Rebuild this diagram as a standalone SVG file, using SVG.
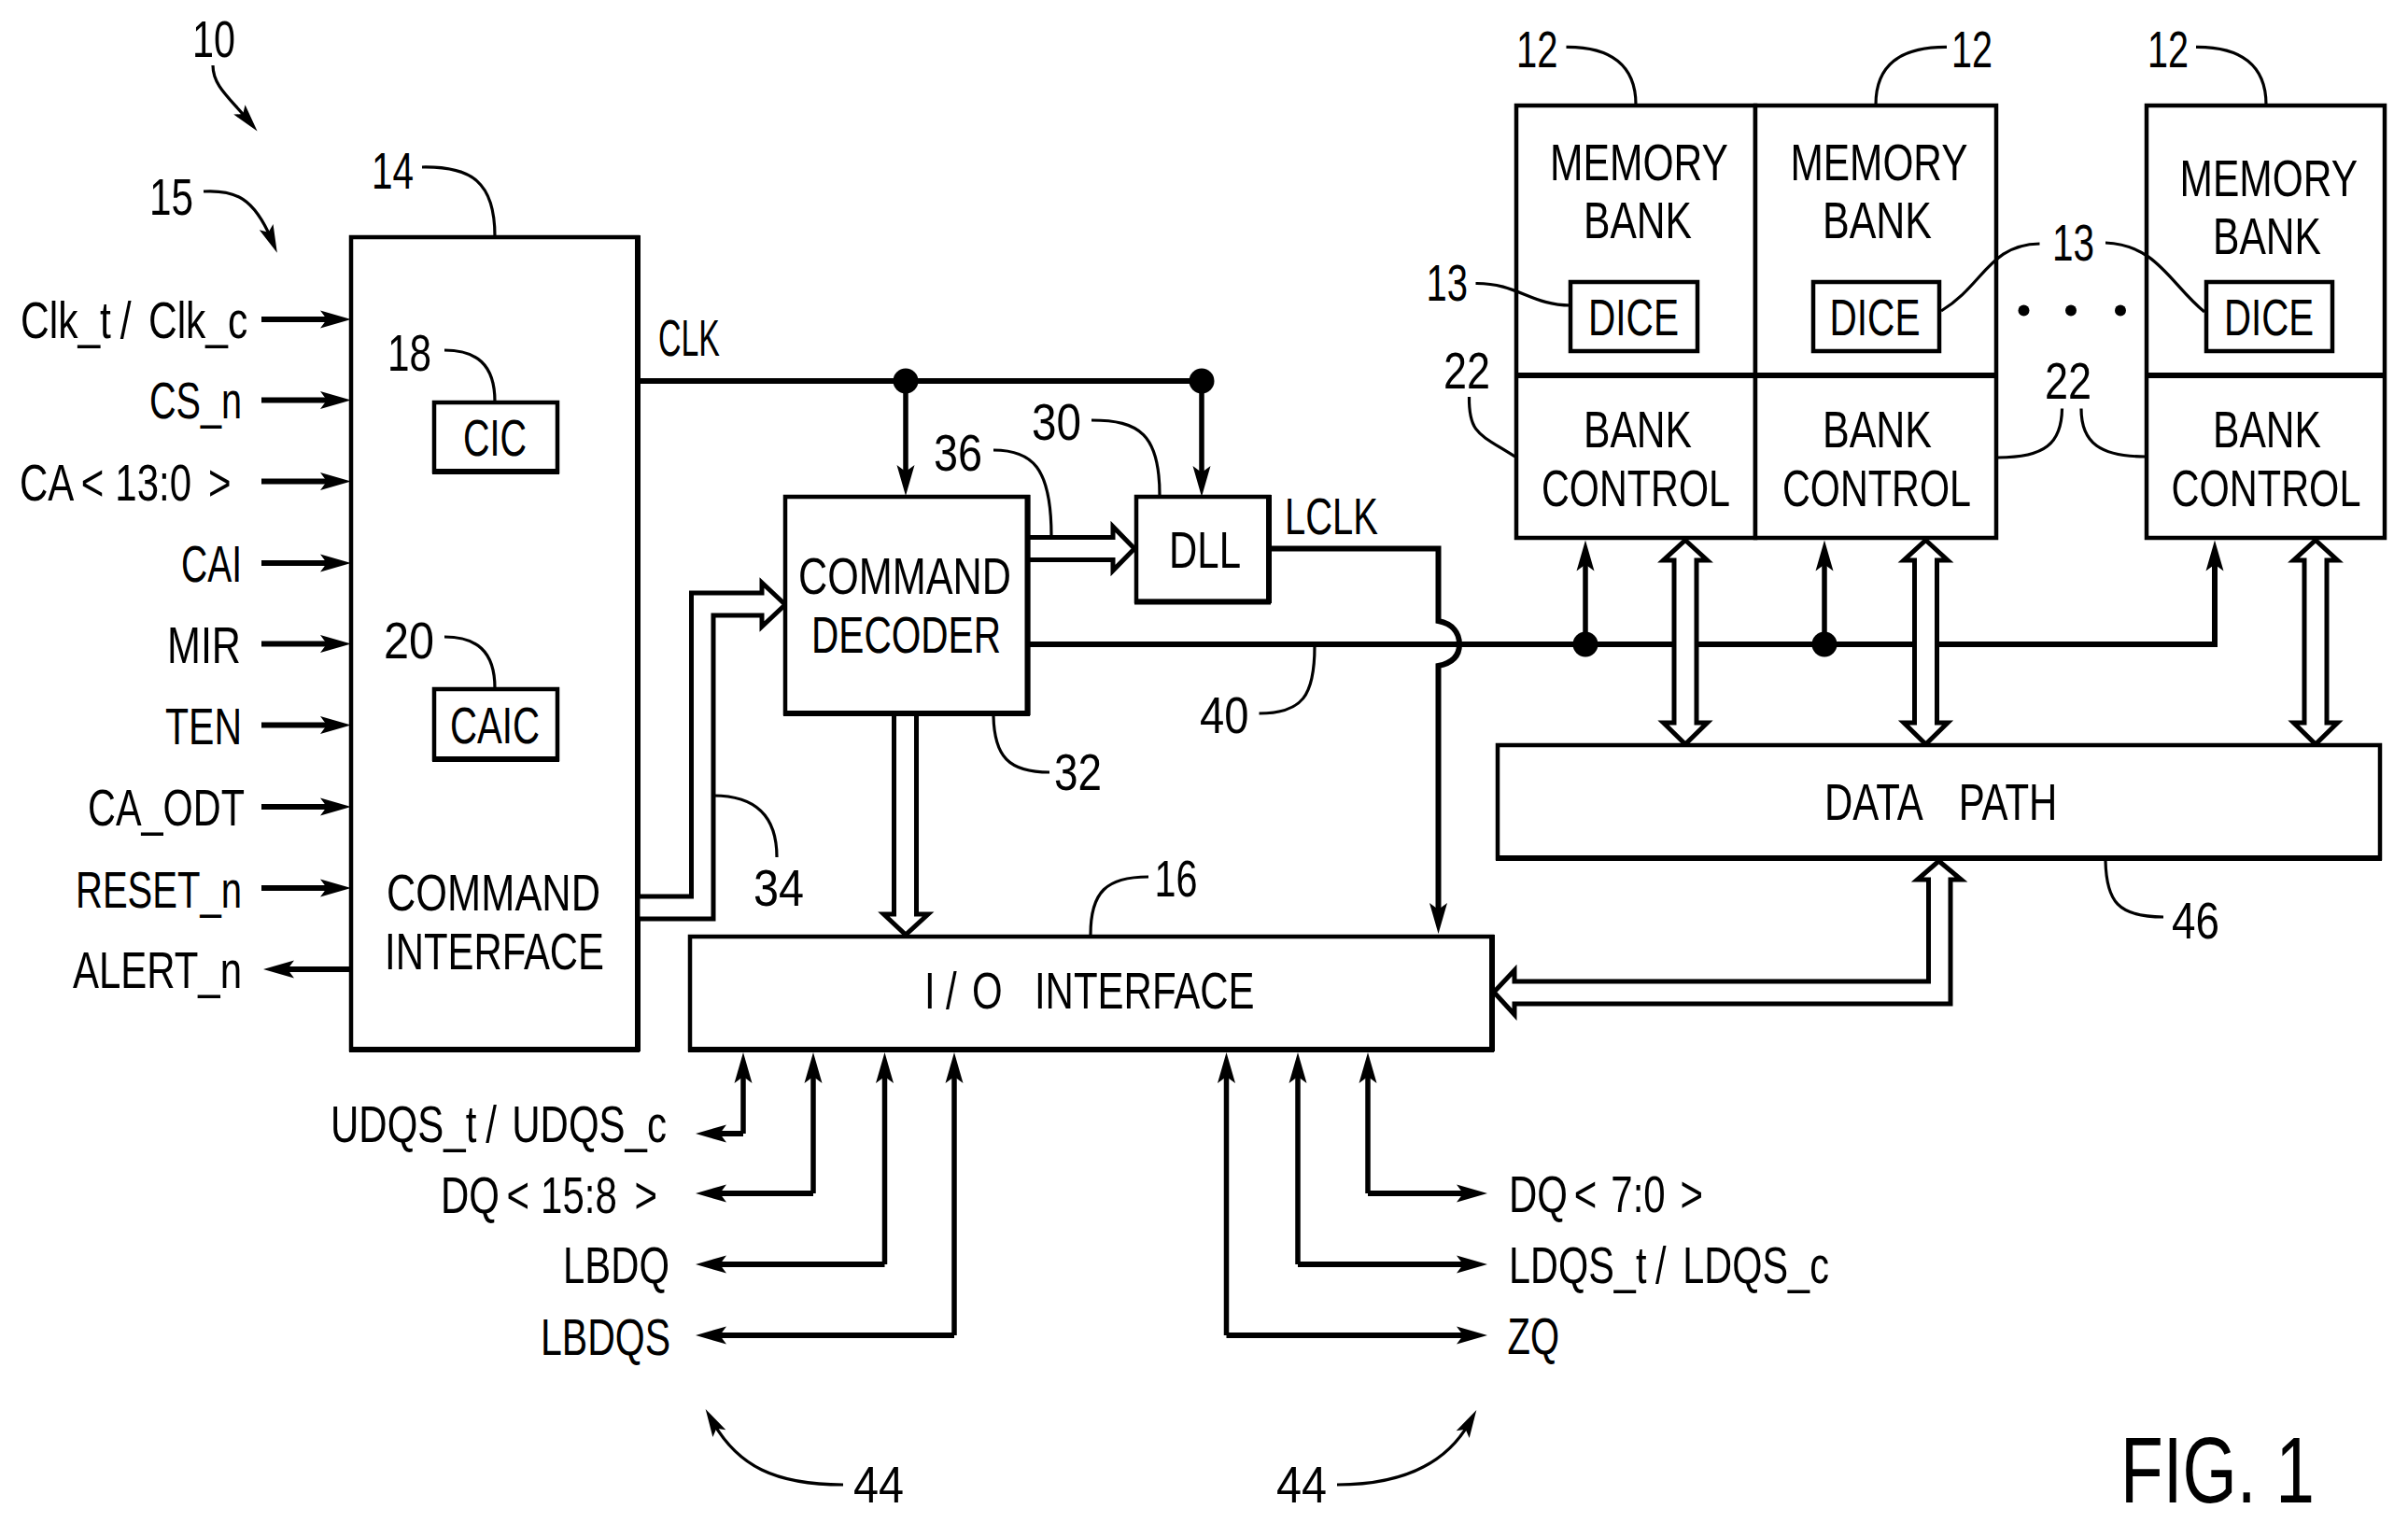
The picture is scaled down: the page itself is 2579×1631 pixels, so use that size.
<svg xmlns="http://www.w3.org/2000/svg" width="2579" height="1631" viewBox="0 0 2579 1631">
<style>
text{font-family:"Liberation Sans",Arial,sans-serif;font-size:56px;fill:#000}
.box{fill:#fff;stroke:#000;stroke-width:4.5}
.edge{fill:none;stroke:#000;stroke-width:6}
.wire{fill:none;stroke:#000;stroke-width:5.5}
.in{fill:none;stroke:#000;stroke-width:6}
.lead{fill:none;stroke:#000;stroke-width:3.2}
.bus{fill:#fff;stroke:#000;stroke-width:5;stroke-linejoin:miter}
.arr{marker-end:url(#head)}
.larr{marker-end:url(#lhead)}
</style>
<defs>
<marker id="head" markerUnits="userSpaceOnUse" markerWidth="40" markerHeight="24" refX="18" refY="12" orient="auto" overflow="visible"><path d="M0 2.5L33 12L0 21.5L7 12Z" fill="#000"/></marker>
<marker id="lhead" markerUnits="userSpaceOnUse" markerWidth="40" markerHeight="24" refX="15" refY="12" orient="auto" overflow="visible"><path d="M0 4L30 12L0 20L6 12Z" fill="#000"/></marker>
</defs>
<rect width="2579" height="1631" fill="#fff"/>

<g id="node-command-interface">
<rect class="box" x="376" y="254" width="307" height="870"/>
<path class="edge" d="M683 252V1126M374 1124H685"/>
<text x="414" y="975" textLength="229" lengthAdjust="spacingAndGlyphs">COMMAND</text>
<text x="412" y="1038" textLength="235" lengthAdjust="spacingAndGlyphs">INTERFACE</text>
</g>
<g id="node-cic"><rect class="box" x="465" y="431" width="132" height="74"/><path class="edge" d="M463 505H599"/>
<text x="496" y="488" textLength="68" lengthAdjust="spacingAndGlyphs">CIC</text></g>
<g id="node-caic"><rect class="box" x="465" y="738" width="132" height="75"/><path class="edge" d="M463 813H599"/>
<text x="482" y="796" textLength="96" lengthAdjust="spacingAndGlyphs">CAIC</text></g>

<g id="connectors">
<path class="in arr" d="M280 342H361"/>
<path class="in arr" d="M280 428.500H361"/>
<path class="in arr" d="M280 515.500H361"/>
<path class="in arr" d="M280 603H361"/>
<path class="in arr" d="M280 689.500H361"/>
<path class="in arr" d="M280 776.500H361"/>
<path class="in arr" d="M280 864H361"/>
<path class="in arr" d="M280 951H361"/>
<path class="in arr" d="M376 1038H297"/>
<path class="edge" d="M683 408H1287"/>
<circle cx="970" cy="408" r="13.500"/>
<circle cx="1287" cy="408" r="13.500"/>
<path class="wire arr" d="M970 408V516"/>
<path class="wire arr" d="M1287 408V517"/>
<path class="edge arr" d="M1359 587.500H1540.500V665C1556 668 1563 678 1563 690C1563 702 1556 710 1540.500 713V985"/>
<path class="edge arr" d="M1100 690H2372V593.500"/>
<circle cx="1698" cy="690" r="13.500"/>
<circle cx="1954" cy="690" r="13.500"/>
<path class="wire arr" d="M1698 690V593.500"/>
<path class="wire arr" d="M1954 690V593.500"/>
<path class="bus" d="M1805 578.500L1828.500 600H1817V774H1828.500L1805 797L1781.500 774H1793V600H1781.500Z"/>
<path class="bus" d="M2062.500 578.500L2086 600H2074.500V774H2086L2062.500 797L2039 774H2050.500V600H2039Z"/>
<path class="bus" d="M2480 578.500L2503.500 600H2492V774H2503.500L2480 797L2456.500 774H2468V600H2456.500Z"/>
<path class="bus" d="M683 960H740.500V635H816V624L841 647.500L816 671V659H764V984H683Z"/>
<path class="bus" d="M1100 575.500H1192V564L1215 587.500L1192 611V599.500H1100Z"/>
<path class="bus" d="M957.500 764H981.500V979H994L970 1001L946.500 979H957.500Z"/>
<path class="bus" d="M2076.500 922L2100.500 942H2089V1075H1622V1086.500L1600 1062.500L1622 1039V1051H2065.500V942H2053.500Z"/>
<path class="wire arr" d="M796 1214V1142"/>
<path class="wire arr" d="M871 1278V1142"/>
<path class="wire arr" d="M947.500 1354V1142"/>
<path class="wire arr" d="M1022 1430V1142"/>
<path class="wire arr" d="M1313.500 1430V1142"/>
<path class="wire arr" d="M1390 1354V1142"/>
<path class="wire arr" d="M1465 1278V1142"/>
<path class="in arr" d="M796 1214H760"/>
<path class="in arr" d="M871 1278H760"/>
<path class="in arr" d="M947.500 1354H760"/>
<path class="in arr" d="M1022 1430H760"/>
<path class="in arr" d="M1465 1278H1578"/>
<path class="in arr" d="M1390 1354H1578"/>
<path class="in arr" d="M1313.500 1430H1578"/>
</g>

<g id="node-command-decoder"><rect class="box" x="841" y="532" width="260" height="232"/><path class="edge" d="M1100.500 530V766M839 764H1103"/>
<text x="855" y="636" textLength="228" lengthAdjust="spacingAndGlyphs">COMMAND</text>
<text x="869" y="699" textLength="203" lengthAdjust="spacingAndGlyphs">DECODER</text></g>
<g id="node-dll"><rect class="box" x="1217" y="532" width="142" height="112"/><path class="edge" d="M1359 530V646M1215 644.500H1361"/>
<text x="1252" y="608" textLength="77" lengthAdjust="spacingAndGlyphs">DLL</text></g>
<g id="node-io-interface"><rect class="box" x="739" y="1003" width="859" height="121"/><path class="edge" d="M737 1124H1600M1598 1001V1126"/>
<text transform="translate(990 1080) scale(.75 1)" dx="0 15 22 0 30">I/O INTERFACE</text></g>
<g id="node-data-path"><rect class="box" x="1604" y="798" width="945" height="121"/><path class="edge" d="M1602 919H2551"/>
<text transform="translate(1954 878) scale(.75 1)" dx="0 0 0 0 0 38">DATA PATH</text></g>

<g id="node-bank-1"><rect class="box" x="1624" y="113" width="256" height="463"/><path class="edge" d="M1624 402H1880"/>
<text x="1660" y="193" textLength="191" lengthAdjust="spacingAndGlyphs">MEMORY</text>
<text x="1696" y="255" textLength="116" lengthAdjust="spacingAndGlyphs">BANK</text>
<rect class="box" x="1682" y="302" width="136" height="74"/>
<text x="1701" y="358.500" textLength="97" lengthAdjust="spacingAndGlyphs">DICE</text>
<text x="1696" y="479" textLength="116" lengthAdjust="spacingAndGlyphs">BANK</text>
<text x="1651" y="541.500" textLength="202" lengthAdjust="spacingAndGlyphs">CONTROL</text></g>
<g id="node-bank-2"><rect class="box" x="1880" y="113" width="258" height="463"/><path class="edge" d="M1880 402H2138"/>
<text x="1917.500" y="193" textLength="190" lengthAdjust="spacingAndGlyphs">MEMORY</text>
<text x="1952" y="255" textLength="117" lengthAdjust="spacingAndGlyphs">BANK</text>
<rect class="box" x="1942" y="302" width="135" height="74"/>
<text x="1959.500" y="358.500" textLength="97" lengthAdjust="spacingAndGlyphs">DICE</text>
<text x="1952" y="479" textLength="117" lengthAdjust="spacingAndGlyphs">BANK</text>
<text x="1909" y="541.500" textLength="202" lengthAdjust="spacingAndGlyphs">CONTROL</text></g>
<g id="node-bank-3"><rect class="box" x="2299" y="113" width="255" height="463"/><path class="edge" d="M2299 402H2554"/>
<text x="2334.500" y="210" textLength="190.500" lengthAdjust="spacingAndGlyphs">MEMORY</text>
<text x="2370" y="272" textLength="116" lengthAdjust="spacingAndGlyphs">BANK</text>
<rect class="box" x="2363" y="302" width="135" height="74"/>
<text x="2382" y="358.500" textLength="96" lengthAdjust="spacingAndGlyphs">DICE</text>
<text x="2370" y="479" textLength="116" lengthAdjust="spacingAndGlyphs">BANK</text>
<text x="2325.500" y="541.500" textLength="203" lengthAdjust="spacingAndGlyphs">CONTROL</text></g>

<g id="ellipsis"><circle cx="2167.500" cy="332.500" r="6"/><circle cx="2218" cy="332.500" r="6"/><circle cx="2271" cy="332.500" r="6"/></g>

<g id="leaders">
<path class="lead larr" d="M228 70C228 92 246 105 266 129"/>
<path class="lead larr" d="M218 205C252 203 272 212 291 257"/>
<path class="lead" d="M452 179C505 178 530 195 530 253"/>
<path class="lead" d="M476 375C510 375 530 390 530 430"/>
<path class="lead" d="M476 682C510 682 530 697 530 737"/>
<path class="lead" d="M764 852C805 852 832 870 832 918"/>
<path class="lead" d="M1064 482C1105 482 1126 500 1126 574"/>
<path class="lead" d="M1169 450C1220 450 1242 465 1242 530"/>
<path class="lead" d="M1064 767C1065 810 1080 827 1124 827"/>
<path class="lead" d="M1408 692C1408 745 1395 764 1348.500 764"/>
<path class="lead" d="M1230 939C1185 939 1168 955 1168 1001"/>
<path class="lead" d="M2255 922C2256 965 2268 982 2317 982"/>
<path class="lead" d="M1677.500 50.400C1725 50 1752 70 1752 112"/>
<path class="lead" d="M2085 50.400C2035 50 2009 70 2009 112"/>
<path class="lead" d="M2352 50.400C2400 50 2427 70 2427 112"/>
<path class="lead" d="M1580.500 303.500C1625 303 1640 327 1682 327"/>
<path class="lead" d="M2184.500 261C2130 262 2125 305 2079 333"/>
<path class="lead" d="M2255 260C2310 262 2325 305 2361 334"/>
<path class="lead" d="M1573.500 425C1573 465 1585 465 1622.500 489"/>
<path class="lead" d="M2208.500 437.500C2208 475 2190 490 2140 490"/>
<path class="lead" d="M2229 437.500C2229 475 2250 489 2298 489"/>
<path class="lead larr" d="M903 1590C830 1590 790 1570 763 1522"/>
<path class="lead larr" d="M1432 1590C1490 1590 1545 1575 1574 1523"/>
</g>

<g id="labels">
<text x="206" y="60.500" textLength="46" lengthAdjust="spacingAndGlyphs">10</text>
<text x="160" y="230" textLength="47" lengthAdjust="spacingAndGlyphs">15</text>
<text x="398" y="202" textLength="45" lengthAdjust="spacingAndGlyphs">14</text>
<text x="415" y="397" textLength="47" lengthAdjust="spacingAndGlyphs">18</text>
<text x="411" y="705" textLength="54" lengthAdjust="spacingAndGlyphs">20</text>
<text x="807" y="970" textLength="54" lengthAdjust="spacingAndGlyphs">34</text>
<text x="1000" y="503.500" textLength="52" lengthAdjust="spacingAndGlyphs">36</text>
<text x="1105" y="470.500" textLength="53" lengthAdjust="spacingAndGlyphs">30</text>
<text x="1129" y="846" textLength="51" lengthAdjust="spacingAndGlyphs">32</text>
<text x="1285" y="784.500" textLength="52.500" lengthAdjust="spacingAndGlyphs">40</text>
<text x="1236.500" y="960" textLength="46" lengthAdjust="spacingAndGlyphs">16</text>
<text x="2326" y="1005" textLength="51" lengthAdjust="spacingAndGlyphs">46</text>
<text x="1624" y="71.500" textLength="44.500" lengthAdjust="spacingAndGlyphs">12</text>
<text x="2090" y="71.500" textLength="44" lengthAdjust="spacingAndGlyphs">12</text>
<text x="2300" y="71.500" textLength="44" lengthAdjust="spacingAndGlyphs">12</text>
<text x="1527.500" y="322" textLength="44.500" lengthAdjust="spacingAndGlyphs">13</text>
<text x="2198" y="279" textLength="45" lengthAdjust="spacingAndGlyphs">13</text>
<text x="1546" y="416" textLength="50" lengthAdjust="spacingAndGlyphs">22</text>
<text x="2190" y="427" textLength="50" lengthAdjust="spacingAndGlyphs">22</text>
<text x="914" y="1609" textLength="54" lengthAdjust="spacingAndGlyphs">44</text>
<text x="1367" y="1609" textLength="54" lengthAdjust="spacingAndGlyphs">44</text>
<text x="705" y="380.500" textLength="66" lengthAdjust="spacingAndGlyphs">CLK</text>
<text x="1376" y="572" textLength="100" lengthAdjust="spacingAndGlyphs">LCLK</text>
<text transform="translate(22 362) scale(.76 1)" dx="0 0 0 0 0 13 24">Clk_t/Clk_c</text>
<text x="160" y="448" textLength="99" lengthAdjust="spacingAndGlyphs">CS_n</text>
<text transform="translate(21 535.500) scale(.75 1)" dx="0 0 10 16 0 0 0 24">CA&lt;13:0&gt;</text>
<text x="194" y="623" textLength="65" lengthAdjust="spacingAndGlyphs">CAI</text>
<text x="179" y="710" textLength="79" lengthAdjust="spacingAndGlyphs">MIR</text>
<text x="177" y="797" textLength="82" lengthAdjust="spacingAndGlyphs">TEN</text>
<text x="94" y="884" textLength="168" lengthAdjust="spacingAndGlyphs">CA_ODT</text>
<text x="81" y="972" textLength="178" lengthAdjust="spacingAndGlyphs">RESET_n</text>
<text x="78" y="1058" textLength="181" lengthAdjust="spacingAndGlyphs">ALERT_n</text>
<text transform="translate(354 1222.500) scale(.75 1)" dx="0 0 0 0 0 0 13 22">UDQS_t/UDQS_c</text>
<text transform="translate(472 1299) scale(.75 1)" dx="0 0 10 16 0 0 0 25">DQ&lt;15:8&gt;</text>
<text x="603" y="1374" textLength="114" lengthAdjust="spacingAndGlyphs">LBDQ</text>
<text x="579" y="1451" textLength="139" lengthAdjust="spacingAndGlyphs">LBDQS</text>
<text transform="translate(1616 1298) scale(.75 1)" dx="0 0 9 20 0 0 21">DQ&lt;7:0&gt;</text>
<text transform="translate(1616 1373.500) scale(.74 1)" dx="0 0 0 0 0 0 13 24">LDQS_t/LDQS_c</text>
<text x="1614.500" y="1450" textLength="55.500" lengthAdjust="spacingAndGlyphs">ZQ</text>
<text x="2271" y="1609" textLength="208" lengthAdjust="spacingAndGlyphs" style="font-size:100px">FIG. 1</text>
</g>
</svg>
